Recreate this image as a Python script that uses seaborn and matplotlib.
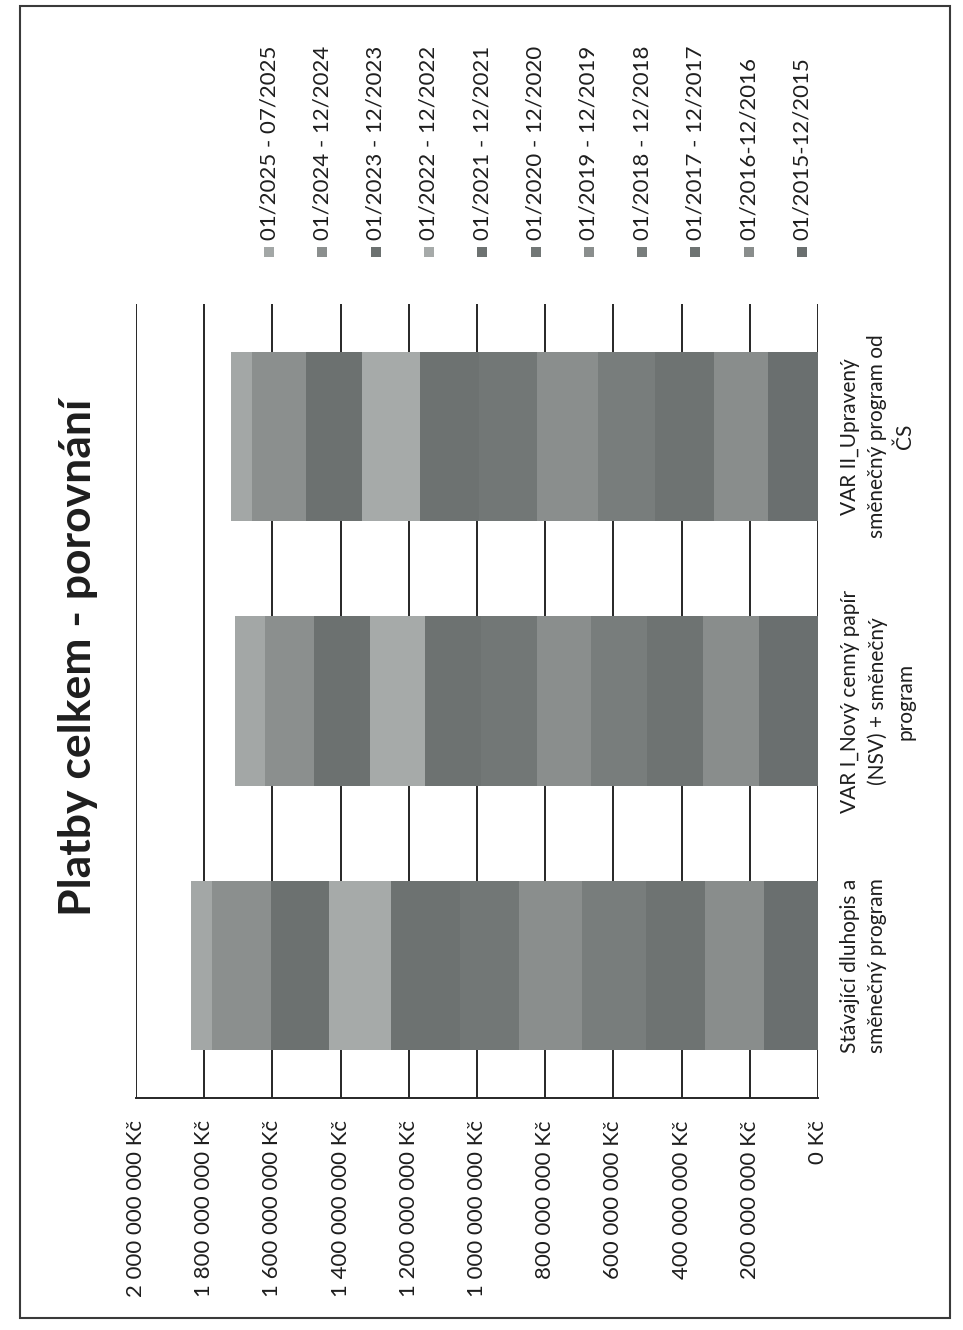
import numpy as np
import pandas as pd
import matplotlib
matplotlib.use("Agg")
import matplotlib.pyplot as plt
from matplotlib.patches import Rectangle
from matplotlib.ticker import FuncFormatter, MultipleLocator
import seaborn as sns

# --- data (million Kč per period) ---------------------------------------
categories = [
    "Stávající dluhopis a\nsměnečný program",
    "VAR I_Nový cenný papír\n(NSV) + směnečný\nprogram",
    "VAR II_Upravený\nsměnečný program od\nČS",
]
periods = [
    "01/2015-12/2015", "01/2016-12/2016", "01/2017 - 12/2017",
    "01/2018 - 12/2018", "01/2019 - 12/2019", "01/2020 - 12/2020",
    "01/2021 - 12/2021", "01/2022 - 12/2022", "01/2023 - 12/2023",
    "01/2024 - 12/2024", "01/2025 - 07/2025",
]
stavajici = [157, 173, 173, 188, 185, 173, 202, 182, 170, 173, 62]
var_i     = [174, 164, 164, 163, 160, 164, 164, 161, 163, 146, 88]
var_ii    = [146, 160, 171, 168, 179, 170, 173, 170, 165, 157, 61]
period_colors = ["#6a6f6f", "#898d8c", "#6e7372", "#787d7c", "#8a8e8d",
                 "#727776", "#6d7271", "#a6aaa9", "#6c7170", "#8b8f8e",
                 "#a3a7a6"]
value_ticks = np.arange(0, 2_000_000_001, 200_000_000)

# --- long table with cumulative stack ends ------------------------------
rows = []
for cat, vals in zip(categories, [stavajici, var_i, var_ii]):
    cum = np.cumsum(np.array(vals) * 1_000_000)
    for p, v, c in zip(periods, vals, cum):
        rows.append({"kategorie": cat, "obdobi": p, "hodnota": v * 1_000_000, "konec": c})
df = pd.DataFrame(rows)

sns.set_theme(style="white")
FONT = ["Lato", "DejaVu Sans"]
plt.rcParams["font.family"] = FONT
TXT = "#1e1e1e"

W, H = 963, 1330
fig = plt.figure(figsize=(W / 100, H / 100), dpi=100)
fig.patch.set_facecolor("white")

def fx(px):
    return px / W

def fy(py):
    return 1 - py / H

ax = fig.add_axes([fx(136), fy(1098), fx(818) - fx(136), fy(304) - fy(1098)])

order = categories[::-1]  # first category drawn lowest on the page
# stacked bars: draw the longest cumulative segment first, shorter on top
for k in range(len(periods) - 1, -1, -1):
    sub = df[df["obdobi"] == periods[k]]
    sns.barplot(data=sub, x="konec", y="kategorie", order=order,
                color=period_colors[k], saturation=1, width=0.64,
                orient="h", linewidth=0, ax=ax, errorbar=None)

ax.set_xlim(2_000_000_000, 0)
ax.set_ylim(2.5, -0.5)
ax.xaxis.set_major_locator(MultipleLocator(200_000_000))
ax.xaxis.set_major_formatter(FuncFormatter(
    lambda v, _: f"{int(round(v)):,} Kč".replace(",", " ")))
ax.set_axisbelow(True)
ax.grid(axis="x", color="#262626", linewidth=1.4)
ax.grid(axis="y", visible=False)
for side in ["top", "left", "right"]:
    ax.spines[side].set_visible(False)
ax.spines["bottom"].set_visible(True)
ax.spines["bottom"].set_color("#262626")
ax.spines["bottom"].set_linewidth(1.4)
ax.set_xlabel("")
ax.set_ylabel("")
ax.tick_params(axis="x", length=0, pad=16, labelsize=16, colors=TXT)
for lab in ax.get_xticklabels():
    lab.set_rotation(90)
    lab.set_va("top")
    lab.set_ha("center")

ax.yaxis.tick_right()
ax.tick_params(axis="y", length=0, pad=16, labelsize=15, colors=TXT)
for lab in ax.get_yticklabels():
    lab.set_rotation(90)
    lab.set_ha("left")
    lab.set_va("center")
    lab.set_multialignment("center")
    lab.set_linespacing(1.45)

# title
fig.text(fx(78), fy(657), "Platby celkem - porovnání", rotation=90,
         ha="center", va="center", fontsize=32, fontweight="bold",
         color=TXT, family=FONT)

# legend: newest period on the left, each entry rotated
leg_x0, leg_dx = 269, 53.3
for i, k in enumerate(range(len(periods) - 1, -1, -1)):
    cx = leg_x0 + i * leg_dx
    fig.patches.append(Rectangle((fx(cx - 5), fy(257)), fx(10), fy(247) - fy(257),
                                 transform=fig.transFigure,
                                 facecolor=period_colors[k], edgecolor="none"))
    fig.text(fx(cx), fy(240), periods[k], rotation=90, ha="center",
             va="bottom", fontsize=16, color=TXT, family=FONT)

# chart area border
fig.patches.append(Rectangle((fx(20), fy(1318)), fx(950) - fx(20), fy(6) - fy(1318),
                             transform=fig.transFigure, facecolor="none",
                             edgecolor="#3a3a3a", linewidth=1.5))

fig.savefig("out.png", dpi=100)
